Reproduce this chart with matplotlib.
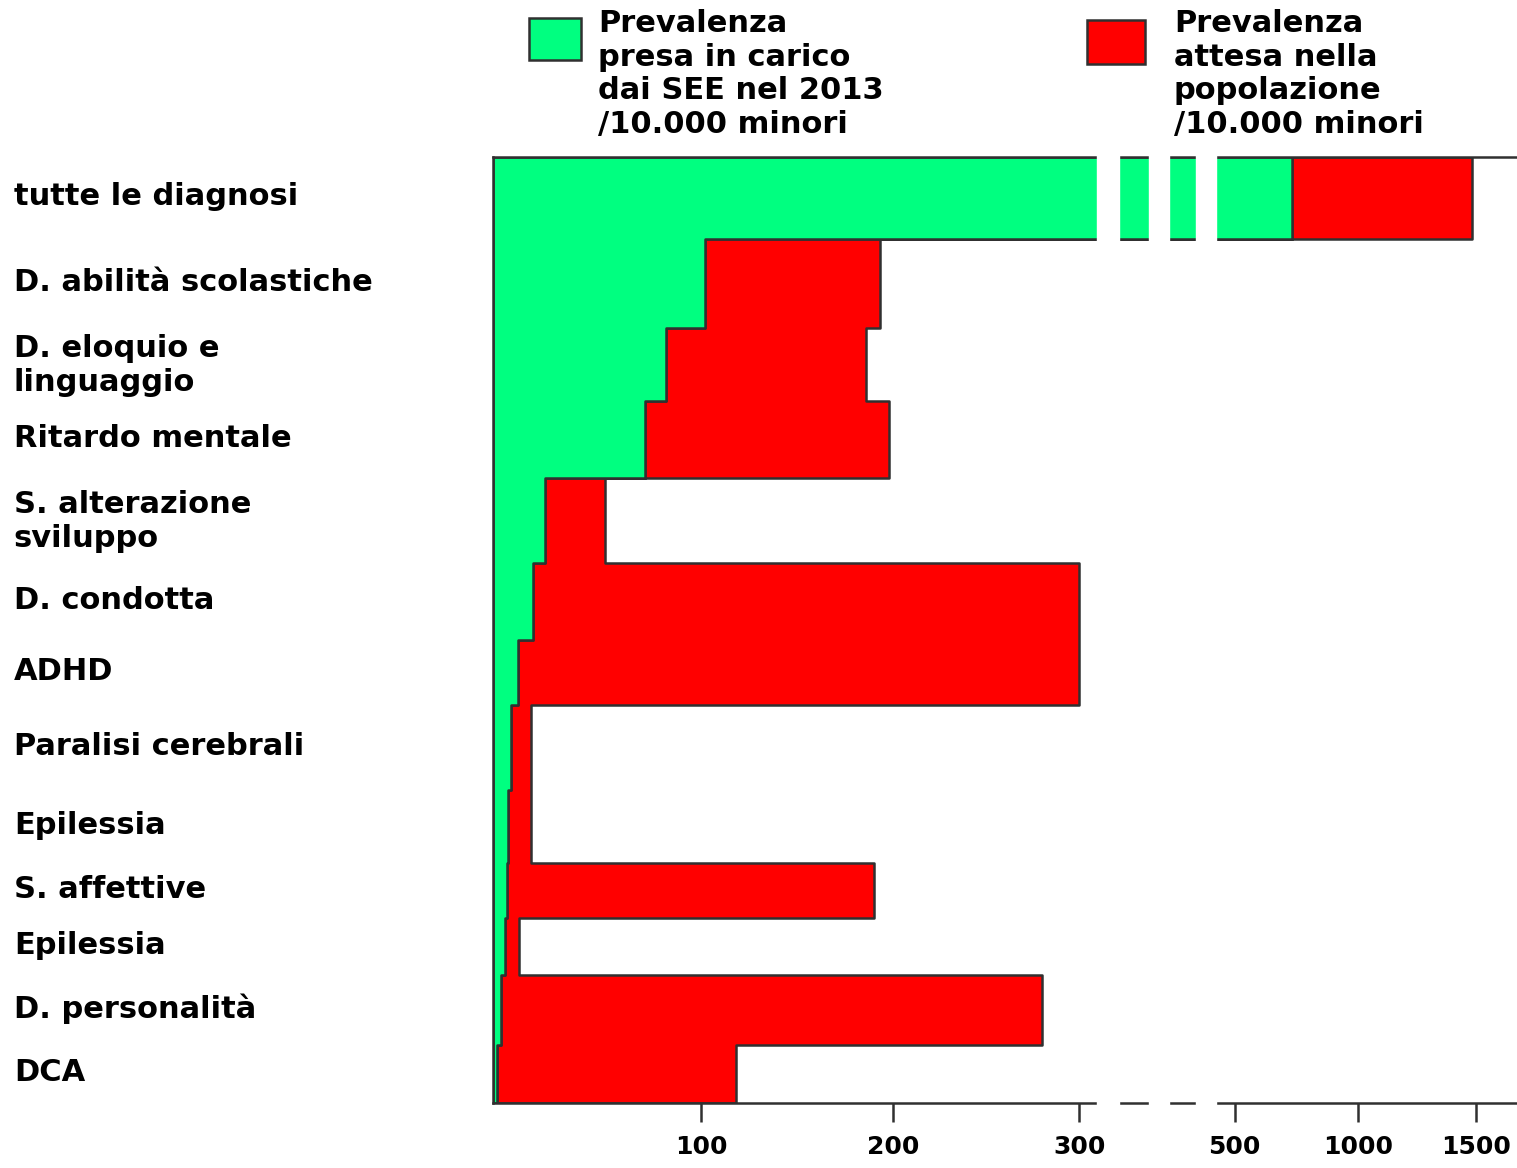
import numpy as np
import matplotlib
matplotlib.use('Agg')
import matplotlib.pyplot as plt
from matplotlib.patches import Rectangle
from matplotlib.transforms import ScaledTranslation

# categories (top to bottom)
diagnoses = ["tutte le diagnosi", "D. abilità scolastiche", "D. eloquio e\nlinguaggio",
             "Ritardo mentale", "S. alterazione\nsviluppo", "D. condotta", "ADHD",
             "Paralisi cerebrali", "Epilessia", "S. affettive", "Epilessia",
             "D. personalità", "DCA"]
# prevalenza presa in carico dai SEE nel 2013 /10.000 minori
taken = [732, 102, 83, 73, 25, 19, 12, 8.7, 7.2, 6.7, 5.8, 3.8, 1.9]
# prevalenza attesa nella popolazione /10.000 minori
expected = [1483, 193, 186, 198, 54, 300, 300, 18.3, 18.3, 190, 12.5, 280, 118]
tick_vals = [100, 200, 300, 500, 1000, 1500]

# layout: relative row heights, broken x axis knots
row_heights = [82, 89, 73, 77, 85, 77, 65, 85, 73, 55, 57, 70, 58]
knot_vals = [0, 100, 200, 300, 500, 1000, 1500, 2000]
knot_pos = [493, 701, 893, 1079, 1234, 1357, 1475, 1593]
breaks = [(323, 351), (390, 416), (450, 476)]

GREEN = '#00ff80'
RED = '#ff0000'
EDGE = '#303030'
FONT = 'DejaVu Sans'


def fwd(v):
    return np.interp(v, knot_vals, knot_pos)


def inv(u):
    return np.interp(u, knot_pos, knot_vals)


fig = plt.figure(figsize=(15.17, 11.68), dpi=100)
ax = fig.add_axes([0.325, 0.0557, 0.6743, 0.8099])
ax.set_xscale('function', functions=(fwd, inv))

edges = np.concatenate([[0], np.cumsum(row_heights)])
red_x = np.append(expected, expected[-1])
green_x = np.append(taken, taken[-1])

ax.fill_betweenx(edges, green_x, red_x, step='post', facecolor=RED,
                 edgecolor=EDGE, linewidth=1.8, zorder=1)
ax.fill_betweenx(edges, 0, green_x, step='post', facecolor=GREEN,
                 edgecolor=EDGE, linewidth=1.8, zorder=1.2)

ax.set_xlim(0, 1670)
ax.set_ylim(edges[-1], 0)

# axis breaks
for a, b in breaks:
    ax.axvspan(a, b, ymin=-0.01, ymax=1.01, color='white', zorder=3, clip_on=False)

for s in ['left', 'top', 'bottom']:
    ax.spines[s].set_color(EDGE)
    ax.spines[s].set_linewidth(1.8)
ax.spines['right'].set_visible(False)

ax.set_xticks(tick_vals)
ax.set_xticklabels([str(t) for t in tick_vals], fontsize=18,
                   fontweight='bold', family=FONT)
ax.xaxis.set_minor_locator(matplotlib.ticker.NullLocator())
ax.tick_params(axis='x', direction='out', length=14, width=1.8,
               color=EDGE, pad=9)

centers = (edges[:-1] + edges[1:]) / 2
ax.set_yticks(centers)
ax.set_yticklabels(diagnoses, fontsize=22, fontweight='bold', family=FONT,
                   ha='left', linespacing=1.2)
ax.tick_params(axis='y', length=0, pad=345)
shift = ScaledTranslation(0, 4 / 100, fig.dpi_scale_trans)
for lab in ax.get_yticklabels():
    lab.set_transform(lab.get_transform() + shift)

# legend
fig.add_artist(Rectangle((529 / 1517, 1 - 60 / 1168), 52 / 1517, 42 / 1168,
                         transform=fig.transFigure, facecolor=GREEN,
                         edgecolor=EDGE, linewidth=1.8))
fig.add_artist(Rectangle((1087 / 1517, 1 - 64 / 1168), 58 / 1517, 44 / 1168,
                         transform=fig.transFigure, facecolor=RED,
                         edgecolor=EDGE, linewidth=1.8))
fig.text(598 / 1517, 1 - 9 / 1168,
         "Prevalenza\npresa in carico\ndai SEE nel 2013\n/10.000 minori",
         fontsize=22, fontweight='bold', family=FONT, va='top', ha='left',
         linespacing=1.2)
fig.text(1174 / 1517, 1 - 9 / 1168,
         "Prevalenza\nattesa nella\npopolazione\n/10.000 minori",
         fontsize=22, fontweight='bold', family=FONT, va='top', ha='left',
         linespacing=1.2)

fig.savefig('out.png', dpi=100, facecolor='white')
